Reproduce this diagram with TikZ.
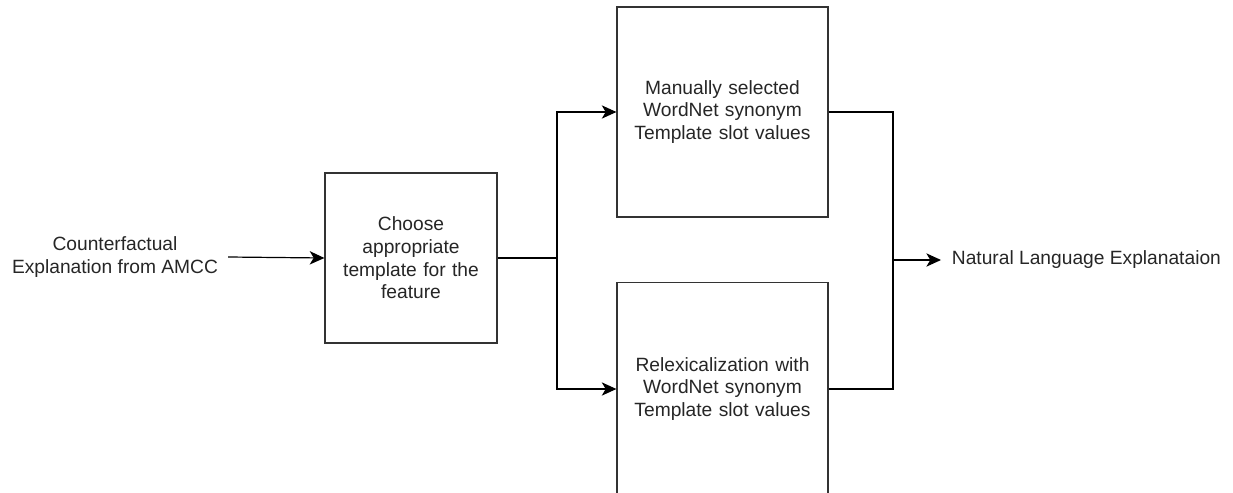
\documentclass[tikz,border=0pt]{standalone}
\usepackage{fontspec}
\setmainfont{Liberation Sans}
\usepackage{tikz}
\usetikzlibrary{arrows.meta, positioning}

\begin{document}
\begin{tikzpicture}[
    x=0.75pt, y=-0.75pt,
    >={Stealth[length=11pt, width=10pt, inset=3pt]},
    every node/.style={font=\fontsize{14.4}{17}\selectfont, text=black!85},
    stepbox/.style={rectangle, draw=black!80, line width=0.9pt, fill=white, align=center, inner sep=2pt},
    smallbox/.style={stepbox, minimum width=129pt, minimum height=127.5pt, text width=115pt},
    bigbox/.style={stepbox, minimum width=158.25pt, minimum height=157.5pt, text width=150pt},
    label/.style={align=center, inner xsep=7.5pt},
    arrow/.style={draw=black, line width=0.9pt, ->},
    line/.style={draw=black, line width=0.9pt}
]
    \useasboundingbox (0,0) rectangle (1233,493);

    % Input and first step
    \node[label] (CFE) at (115, 257) {Counterfactual\\Explanation from AMCC};
    \node[smallbox] (CHOOSE) at (411, 258) {Choose\\appropriate\\template for the\\feature};

    % Two alternative slot-filling steps
    \node[bigbox] (MANUAL) at (722.5, 112) {Manually selected\\WordNet synonym\\Template slot values};
    \node[bigbox, minimum height=160pt] (RELEX) at (722.5, 389) {Relexicalization with\\WordNet synonym\\Template slot values};

    % Output
    \node[label, anchor=west, inner xsep=8pt] (NLE) at (941, 260) {Natural Language Explanataion};

    % Split and merge points
    \coordinate (SPLIT) at (557, 258);
    \coordinate (MERGE) at (893, 260);

    % Input -> Choose
    \draw[arrow] (CFE.east) -- (CHOOSE.west);

    % Choose -> both branches
    \draw[line] (CHOOSE.east) -- (SPLIT);
    \draw[arrow] (SPLIT) |- (MANUAL.west);
    \draw[arrow] (SPLIT) |- (RELEX.west);

    % Both branches -> output
    \draw[line] (MANUAL.east) -| (MERGE);
    \draw[line] (RELEX.east) -| (MERGE);
    \draw[arrow] (MERGE) -- (NLE.west);
\end{tikzpicture}
\end{document}
